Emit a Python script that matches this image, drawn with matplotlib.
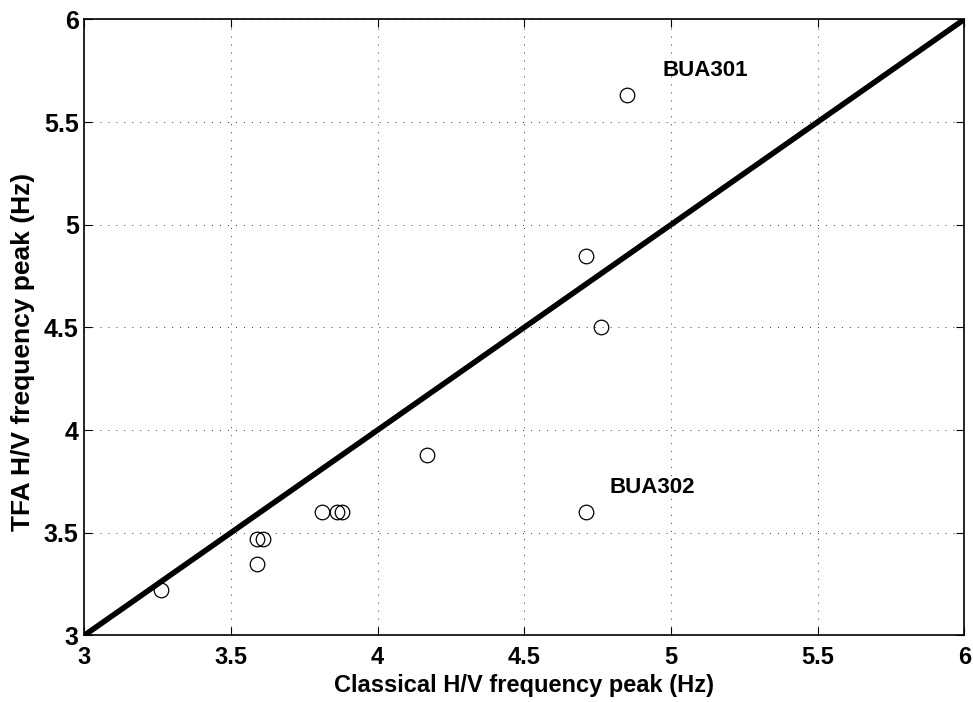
import matplotlib
matplotlib.use("Agg")
import matplotlib.pyplot as plt

classical = [3.26, 3.59, 3.61, 3.59, 3.81, 3.86, 3.88, 4.17, 4.71, 4.71, 4.76, 4.85]
tfa = [3.22, 3.47, 3.47, 3.35, 3.60, 3.60, 3.60, 3.88, 3.60, 4.85, 4.50, 5.63]
ref_line = [3, 6]
labels = ["BUA301", "BUA302"]
label_x = [4.97, 4.79]
label_y = [5.75, 3.72]
ticks = [3, 3.5, 4, 4.5, 5, 5.5, 6]
tick_labels = ["3", "3.5", "4", "4.5", "5", "5.5", "6"]

plt.rcParams['font.family'] = ['Liberation Sans', 'DejaVu Sans']

fig = plt.figure(figsize=(9.73, 7.02), dpi=100)
ax = fig.add_axes([0.0866, 0.0949, 0.9044, 0.8775])

ax.plot(ref_line, ref_line, color='black', linewidth=4.0, solid_capstyle='butt', zorder=3)
ax.plot(classical, tfa, linestyle='none', marker='o', markersize=10.5,
        markerfacecolor='none', markeredgecolor='black', markeredgewidth=0.9, zorder=4)
for t, x, y in zip(labels, label_x, label_y):
    ax.text(x, y, t, fontsize=16, fontweight='bold', va='center', ha='left')

ax.set_xlim(3, 6)
ax.set_ylim(3, 6)
ax.set_xticks(ticks)
ax.set_yticks(ticks)
ax.set_xticklabels(tick_labels, fontsize=17, fontweight='bold')
ax.set_yticklabels(tick_labels, fontsize=18, fontweight='bold')
ax.tick_params(direction='in', length=6, width=0.8, top=True, right=True)
ax.tick_params(axis='x', pad=8)
ax.tick_params(axis='y', pad=4)
ax.grid(True, linestyle=(0, (1, 7.2)), color='black', linewidth=0.7, alpha=0.8)
for s in ax.spines.values():
    s.set_linewidth(1.2)
ax.set_xlabel("Classical H/V frequency peak (Hz)", fontsize=17, fontweight='bold', labelpad=3)
ax.set_ylabel("TFA H/V frequency peak (Hz)", fontsize=19, fontweight='bold')
ax.yaxis.set_label_coords(-0.056, 0.46)

fig.savefig("out.png", dpi=100)
